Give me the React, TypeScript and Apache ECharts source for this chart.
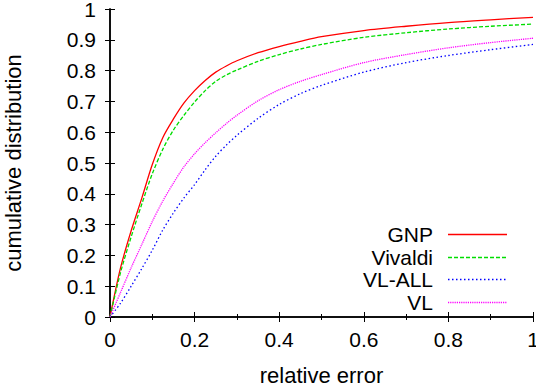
import React, { useEffect, useRef } from "react";
import * as echarts from "echarts";

const xs = [0, 0.025, 0.05, 0.075, 0.1, 0.125, 0.15, 0.175, 0.2, 0.225, 0.25, 0.275, 0.3, 0.35, 0.4, 0.45, 0.5, 0.6, 0.7, 0.8, 0.9, 1.0];
const gnp = [0, 0.16, 0.28, 0.385, 0.495, 0.583, 0.643, 0.695, 0.735, 0.768, 0.795, 0.815, 0.832, 0.858, 0.878, 0.895, 0.91, 0.93, 0.944, 0.956, 0.965, 0.973];
const vivaldi = [0, 0.145, 0.26, 0.366, 0.465, 0.545, 0.607, 0.655, 0.698, 0.735, 0.765, 0.786, 0.802, 0.83, 0.852, 0.87, 0.885, 0.908, 0.923, 0.935, 0.944, 0.951];
const vlAll = [0, 0.045, 0.1, 0.157, 0.217, 0.283, 0.338, 0.387, 0.43, 0.478, 0.522, 0.558, 0.59, 0.645, 0.69, 0.725, 0.752, 0.795, 0.826, 0.849, 0.868, 0.885];
const vl = [0, 0.08, 0.16, 0.235, 0.31, 0.377, 0.435, 0.488, 0.53, 0.566, 0.598, 0.628, 0.655, 0.702, 0.738, 0.765, 0.787, 0.826, 0.852, 0.874, 0.891, 0.905];

const seriesNames = ["GNP", "Vivaldi", "VL-ALL", "VL"];
const seriesValues = [gnp, vivaldi, vlAll, vl];
const seriesColors = ["#ff0000", "#00dd00", "#0000ff", "#ff00ff"];
const seriesDash: any[] = ["solid", [4, 2], [1.5, 2.5], [1.2, 1]];

const FONT = "'Liberation Sans', Arial, Helvetica, sans-serif";

export default function App() {
  const ref = useRef<HTMLDivElement>(null);
  useEffect(() => {
    if (!ref.current) return;
    const chart = echarts.init(ref.current, null, { renderer: "svg" });
    const axisLine = { show: true, lineStyle: { color: "#000", width: 1.5 } };
    const legendTop = 234;
    const legendStep = 22.5;
    const legendGraphics: any[] = [];
    seriesNames.forEach((name, i) => {
      const y = Math.round(legendTop + i * legendStep);
      legendGraphics.push({
        type: "text",
        x: 433,
        y,
        style: { text: name, fontSize: 21, lineHeight: 21, fontFamily: FONT, fill: "#000", align: "right", verticalAlign: "middle" },
      });
      legendGraphics.push({
        type: "line",
        shape: { x1: 448, y1: y + 0.5, x2: 507, y2: y + 0.5 },
        style: { stroke: seriesColors[i], lineWidth: 1.3, lineDash: seriesDash[i] === "solid" ? null : seriesDash[i] },
      });
    });
    const option: any = {
      animation: false,
      backgroundColor: "#fff",
      textStyle: { fontFamily: FONT },
      grid: { left: 110, right: 3, top: 9, bottom: 72, outerBoundsMode: "none", containLabel: false },
      graphic: legendGraphics,
      xAxis: [
        {
          type: "value",
          min: 0,
          max: 1,
          interval: 0.2,
          position: "bottom",
          name: "relative error",
          nameLocation: "middle",
          nameGap: 47,
          nameTextStyle: { fontSize: 22, color: "#000", fontFamily: FONT },
          axisLine,
          axisTick: { show: true, inside: true, length: 5, lineStyle: { color: "#000" } },
          minorTick: { show: true, splitNumber: 2, length: 3, lineStyle: { color: "#000" } },
          splitLine: { show: false },
          axisLabel: { fontSize: 21, color: "#000", margin: 12, fontFamily: FONT, hideOverlap: false },
        },
        {
          type: "value",
          min: 0,
          max: 1,
          interval: 0.2,
          position: "top",
          axisLine,
          axisTick: { show: true, inside: true, length: 5, lineStyle: { color: "#000" } },
          minorTick: { show: true, splitNumber: 2, length: 3, lineStyle: { color: "#000" } },
          splitLine: { show: false },
          axisLabel: { show: false },
        },
      ],
      yAxis: [
        {
          type: "value",
          min: 0,
          max: 1,
          interval: 0.1,
          position: "left",
          name: "cumulative distribution",
          nameLocation: "middle",
          nameGap: 86,
          nameTextStyle: { fontSize: 22, color: "#000", fontFamily: FONT },
          axisLine,
          axisTick: { show: true, inside: true, length: 5, lineStyle: { color: "#000" } },
          splitLine: { show: false },
          axisLabel: { fontSize: 21, color: "#000", margin: 14, fontFamily: FONT },
        },
        {
          type: "value",
          min: 0,
          max: 1,
          interval: 0.1,
          position: "right",
          axisLine,
          axisTick: { show: true, inside: true, length: 5, lineStyle: { color: "#000" } },
          splitLine: { show: false },
          axisLabel: { show: false },
        },
      ],
      series: seriesNames.map((name, i) => ({
        name,
        type: "line",
        xAxisIndex: 0,
        yAxisIndex: 0,
        showSymbol: false,
        symbol: "none",
        smooth: 0.3,
        color: seriesColors[i],
        lineStyle: { color: seriesColors[i], width: 1.3, type: seriesDash[i] },
        data: xs.map((x, j) => [x, seriesValues[i][j]]),
      })),
    };
    chart.setOption(option);
    return () => chart.dispose();
  }, []);
  return <div ref={ref} style={{ position: "absolute", left: 0, top: 0, width: 536, height: 389 }} />;
}
